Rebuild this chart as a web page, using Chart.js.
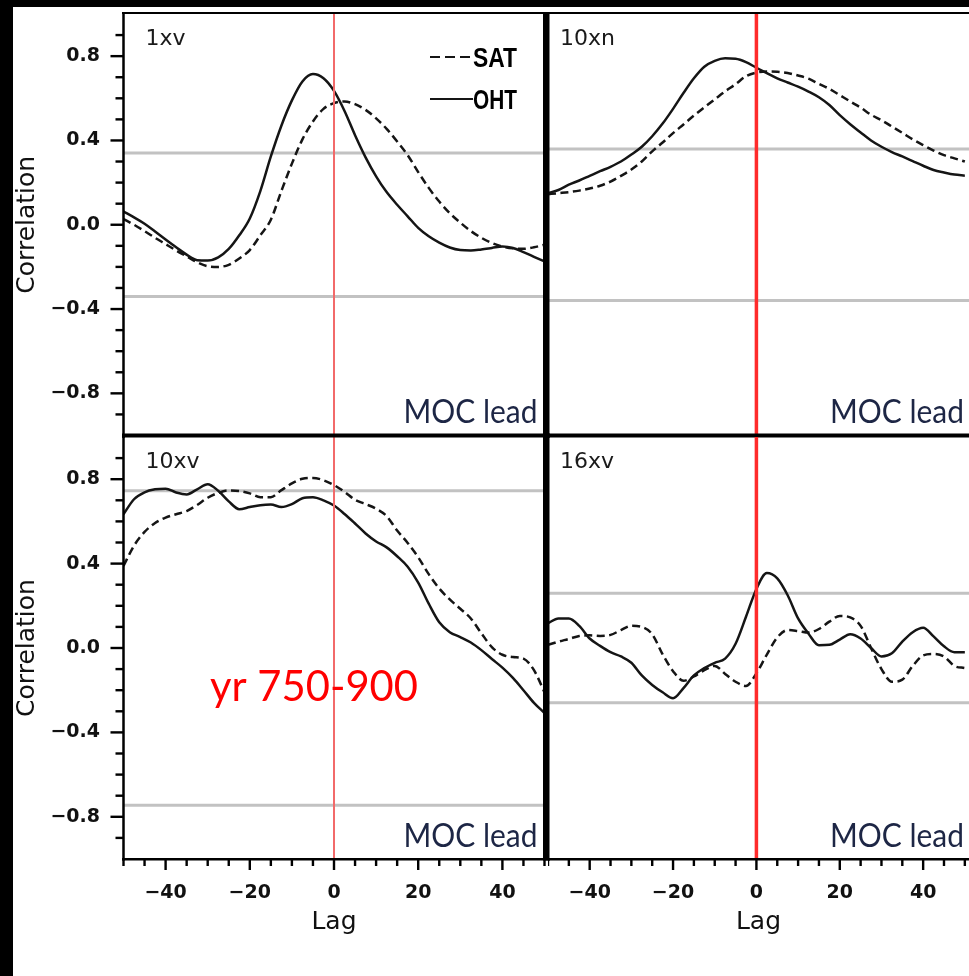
<!DOCTYPE html>
<html lang="en">
<head>
<meta charset="utf-8">
<title>MOC lag correlations</title>
<script src="https://cdn.jsdelivr.net/npm/chart.js@4.4.1/dist/chart.umd.min.js"></script>
<style>
  html, body { margin: 0; padding: 0; background: #fff; overflow: hidden; }
  #figure {
    position: relative;
    width: 956px;
    height: 969px;
    border-left: 13px solid #000;
    border-top: 7px solid #000;
    background: #fff;
  }
  #figure canvas { position: absolute; }
</style>
</head>
<body>
<div id="figure">
  <canvas id="panelB" width="421" height="431" style="left:535px;top:0"></canvas>
  <canvas id="panelD" width="421" height="539" style="left:535px;top:430px"></canvas>
  <canvas id="panelC" width="537" height="539" style="left:0;top:430px"></canvas>
  <canvas id="panelA" width="537" height="431" style="left:0;top:0"></canvas>
</div>
<script>
// lag in years (negative = MOC lags)
const lags = [-50, -47.5, -45, -42.5, -40, -37.5, -35, -32.5, -30, -27.5, -25, -22.5, -20, -17.5, -15, -12.5, -10, -7.5, -5, -2.5,
  0, 2.5, 5, 7.5, 10, 12.5, 15, 17.5, 20, 22.5, 25, 27.5, 30, 32.5, 35, 37.5, 40, 42.5, 45, 47.5, 50];

// correlation of ocean heat transport (OHT) and surface air temperature (SAT) with the MOC
const oht1xv = [0.063, 0.035, 0.005, -0.032, -0.07, -0.107, -0.142, -0.168, -0.17, -0.155, -0.115, -0.05, 0.03, 0.16, 0.324, 0.47, 0.59, 0.68, 0.715, 0.695,
  0.635, 0.54, 0.425, 0.32, 0.23, 0.155, 0.095, 0.04, -0.015, -0.055, -0.085, -0.108, -0.12, -0.122, -0.117, -0.11, -0.103, -0.11, -0.13, -0.152, -0.174];
const sat1xv = [0.027, 0.0, -0.03, -0.062, -0.092, -0.122, -0.15, -0.178, -0.197, -0.2, -0.19, -0.16, -0.12, -0.05, 0.024, 0.16, 0.29, 0.405, 0.49, 0.55,
  0.577, 0.585, 0.572, 0.545, 0.505, 0.455, 0.395, 0.33, 0.25, 0.175, 0.11, 0.055, 0.01, -0.03, -0.062, -0.087, -0.103, -0.112, -0.114, -0.107, -0.095];

const oht10xn = [0.15, 0.165, 0.19, 0.21, 0.232, 0.254, 0.275, 0.3, 0.333, 0.37, 0.42, 0.48, 0.55, 0.625, 0.695, 0.75, 0.778, 0.79, 0.788, 0.772,
  0.745, 0.72, 0.695, 0.675, 0.655, 0.632, 0.605, 0.568, 0.52, 0.477, 0.438, 0.4, 0.37, 0.345, 0.324, 0.302, 0.28, 0.26, 0.248, 0.238, 0.233];
const sat10xn = [0.145, 0.15, 0.155, 0.162, 0.172, 0.185, 0.205, 0.232, 0.262, 0.3, 0.348, 0.39, 0.435, 0.476, 0.518, 0.557, 0.595, 0.633, 0.667, 0.705,
  0.722, 0.727, 0.726, 0.72, 0.708, 0.693, 0.668, 0.645, 0.615, 0.585, 0.556, 0.522, 0.496, 0.466, 0.436, 0.405, 0.378, 0.352, 0.33, 0.315, 0.3];

const oht10xv = [0.634, 0.705, 0.738, 0.752, 0.755, 0.737, 0.728, 0.752, 0.776, 0.745, 0.695, 0.658, 0.668, 0.677, 0.68, 0.668, 0.682, 0.71, 0.715, 0.7,
  0.675, 0.635, 0.59, 0.543, 0.505, 0.477, 0.435, 0.385, 0.31, 0.21, 0.122, 0.075, 0.052, 0.026, -0.01, -0.052, -0.093, -0.142, -0.2, -0.26, -0.308];
const sat10xv = [0.389, 0.485, 0.55, 0.592, 0.618, 0.634, 0.649, 0.678, 0.712, 0.735, 0.747, 0.744, 0.733, 0.715, 0.715, 0.748, 0.78, 0.802, 0.806, 0.795,
  0.772, 0.74, 0.702, 0.682, 0.66, 0.625, 0.557, 0.498, 0.43, 0.35, 0.282, 0.23, 0.186, 0.14, 0.07, 0.004, -0.032, -0.043, -0.05, -0.105, -0.21];

const oht16xv = [0.118, 0.14, 0.14, 0.105, 0.045, 0.01, -0.02, -0.04, -0.07, -0.13, -0.175, -0.21, -0.238, -0.19, -0.13, -0.095, -0.07, -0.05, 0.02, 0.148,
  0.28, 0.355, 0.33, 0.25, 0.14, 0.068, 0.013, 0.015, 0.04, 0.065, 0.045, 0.0, -0.04, -0.025, 0.03, 0.075, 0.096, 0.055, 0.008, -0.02, -0.02];
const sat16xv = [0.015, 0.03, 0.043, 0.057, 0.06, 0.057, 0.062, 0.085, 0.105, 0.1, 0.065, -0.03, -0.11, -0.155, -0.135, -0.105, -0.085, -0.123, -0.16, -0.18,
  -0.12, -0.031, 0.05, 0.085, 0.08, 0.073, 0.09, 0.125, 0.152, 0.145, 0.105, 0.0, -0.1, -0.16, -0.15, -0.085, -0.035, -0.028, -0.04, -0.085, -0.095];

const panelNames = ['1xv', '10xn', '10xv', '16xv'];
const ohtSeries = [oht1xv, oht10xn, oht10xv, oht16xv];
const satSeries = [sat1xv, sat10xn, sat10xv, sat16xv];
// 95% significance level for each run
const sigLevels = [0.34, 0.36, 0.745, 0.26];

const yMajorTicks = [-0.8, -0.4, 0, 0.4, 0.8];
const yTickLabels = ['\u22120.8', '\u22120.4', '0.0', '0.4', '0.8'];
const xMajorTicks = [-40, -20, 0, 20, 40];
const xTickLabels = ['\u221240', '\u221220', '0', '20', '40'];

function labelFor(majors, labels) {
  return v => {
    const i = majors.findIndex(m => Math.abs(m - v) < 1e-6);
    return i < 0 ? null : labels[i];
  };
}

// fixed axis sizes; also drop the label overhang padding so the boxes line up
function fixAxis(size) {
  return s => {
    s.paddingLeft = s.paddingRight = s.paddingTop = s.paddingBottom = 0;
    if (!s.options.display) return;
    if (s.isHorizontal()) s.height = size;
    else s.width = size;
  };
}

// box edges, minor/major ticks and the panel annotations
const panelDecor = {
  id: 'panelDecor',
  afterDraw(chart, args, o) {
    const { ctx, chartArea: a, width, height } = chart;
    const xs = chart.scales.x;
    const ys = chart.scales.y;
    const f = o.frame;
    ctx.save();
    ctx.fillStyle = '#000';
    const x0 = f.left ? a.left - 1.5 : 0;
    const yTop = f.top ? a.top - 2 : 0;
    const yBot = f.bottom ? a.bottom + 1.5 : height;
    if (f.top) ctx.fillRect(x0, a.top - 2, width - x0, 2);
    if (f.split) ctx.fillRect(x0, a.bottom - 2, width - x0, 4);
    if (f.bottom) ctx.fillRect(x0, a.bottom - 1, width - x0, 2.5);
    if (f.left) ctx.fillRect(a.left - 1.25, yTop, 2.5, yBot - yTop);
    if (f.right) ctx.fillRect(a.right - 1.5, yTop, 6.5, yBot - yTop);

    if (f.left) {
      for (let k = -9; k <= 9; k++) {
        const py = ys.getPixelForValue(k / 10);
        const len = k % 4 === 0 ? 13 : 8;
        ctx.fillRect(a.left - len, py - 1.2, len, 2.4);
      }
    }
    if (f.bottom) {
      for (let lag = -50; lag <= 50; lag += 5) {
        const px = xs.getPixelForValue(lag);
        const len = lag % 20 === 0 ? 11 : 7;
        ctx.fillRect(px - 1.2, a.bottom, 2.4, len);
      }
    }

    ctx.textBaseline = 'alphabetic';
    ctx.textAlign = 'left';
    ctx.fillStyle = '#1a1a1a';
    ctx.font = '22px "DejaVu Sans"';
    ctx.fillText(o.name, a.left + o.nameDx, a.top + 31);

    ctx.textAlign = 'right';
    ctx.fillStyle = '#1d2645';
    ctx.font = '32px Lato';
    ctx.fillText('MOC lead', a.right - o.mocDx, a.bottom - 12.5, 134);

    if (o.legend) {
      const lx = a.right - 114.5;
      ctx.textAlign = 'left';
      ctx.font = 'bold 27px "Liberation Sans"';
      o.legend.forEach((name, i) => {
        const ds = chart.data.datasets.find(d => d.label === name);
        const ly = a.top + 43 + i * 42;
        ctx.strokeStyle = ds.borderColor;
        ctx.lineWidth = 2;
        ctx.setLineDash(ds.borderDash ? [10, 5] : []);
        ctx.beginPath();
        ctx.moveTo(lx, ly);
        ctx.lineTo(lx + 43, ly);
        ctx.stroke();
        ctx.fillStyle = '#000';
        ctx.fillText(name, lx + 43, ly + 10, 44);
      });
      ctx.setLineDash([]);
    }

    if (o.note) {
      ctx.textAlign = 'left';
      ctx.fillStyle = '#ff0000';
      ctx.font = '43px Lato';
      ctx.fillText(o.note, a.left + 86.5, a.top + 264, 208);
    }
    ctx.restore();
  }
};

const panels = [
  { id: 'panelA', row: 0, col: 0, padding: { left: 0, top: 7, right: 5.5, bottom: 2.5 },
    frame: { top: true, left: true, right: true, split: true }, nameDx: 22, mocDx: 7, legend: ['SAT', 'OHT'] },
  { id: 'panelB', row: 0, col: 1, padding: { left: 0, top: 7, right: 0, bottom: 2.5 },
    frame: { top: true, split: true }, nameDx: 12, mocDx: 5 },
  { id: 'panelC', row: 1, col: 0, padding: { left: 0, top: 0, right: 5.5, bottom: 0 },
    frame: { left: true, right: true, bottom: true }, nameDx: 22, mocDx: 7, note: 'yr 750-900' },
  { id: 'panelD', row: 1, col: 1, padding: 0,
    frame: { bottom: true }, nameDx: 12, mocDx: 5 }
];

const tickFont = { family: 'DejaVu Sans', size: 19, weight: 'bold' };

function buildPanel(p, i) {
  const xMax = p.col === 1 ? 51 : 50;
  const sig = sigLevels[i];
  const red = p.col === 0 ? { color: '#f26a6a', width: 2 } : { color: '#ff2b2b', width: 3.5 };
  const curve = (ys) => lags.map((x, k) => ({ x, y: ys[k] }));

  new Chart(document.getElementById(p.id), {
    type: 'line',
    data: {
      datasets: [
        { label: 'lag 0', data: [{ x: 0, y: -1 }, { x: 0, y: 1 }], borderColor: red.color, borderWidth: red.width },
        { label: 'OHT', data: curve(ohtSeries[i]), borderColor: '#151515', borderWidth: 2.5, cubicInterpolationMode: 'monotone' },
        { label: 'SAT', data: curve(satSeries[i]), borderColor: '#151515', borderWidth: 2.5, borderDash: [8, 4.5], cubicInterpolationMode: 'monotone' },
        { label: 'sig+', data: [{ x: -50, y: sig }, { x: xMax, y: sig }], borderColor: '#c2c2c2', borderWidth: 3 },
        { label: 'sig-', data: [{ x: -50, y: -sig }, { x: xMax, y: -sig }], borderColor: '#c2c2c2', borderWidth: 3 }
      ]
    },
    options: {
      responsive: false,
      animation: false,
      events: [],
      layout: { padding: p.padding },
      elements: { point: { radius: 0 } },
      plugins: {
        legend: { display: false },
        tooltip: { enabled: false },
        panelDecor: { name: panelNames[i], frame: p.frame, nameDx: p.nameDx, mocDx: p.mocDx, legend: p.legend, note: p.note }
      },
      scales: {
        x: {
          type: 'linear', min: -50, max: xMax,
          display: p.row === 1,
          grid: { display: false, drawTicks: false },
          border: { display: false },
          ticks: { stepSize: 5, autoSkip: false, maxRotation: 0, padding: 22.5, font: tickFont, color: '#111',
            callback: labelFor(xMajorTicks, xTickLabels) },
          title: { display: true, text: 'Lag', color: '#111',
            font: { family: 'DejaVu Sans', size: 25, lineHeight: 1.2 }, padding: { top: 0, bottom: 38.5 } },
          afterFit: fixAxis(117)
        },
        y: {
          type: 'linear', min: -1, max: 1,
          display: p.col === 0,
          grid: { display: false, drawTicks: false },
          border: { display: false },
          ticks: { stepSize: 0.1, autoSkip: false, padding: 23.5, font: tickFont, color: '#111',
            callback: labelFor(yMajorTicks, yTickLabels) },
          title: { display: true, text: 'Correlation', color: '#111',
            font: { family: 'DejaVu Sans', size: 25, lineHeight: 1 }, padding: { top: 1.5, bottom: 0 } },
          afterFit: fixAxis(110.5)
        }
      }
    },
    plugins: [panelDecor]
  });
}

Promise.all([
  document.fonts.load('32px Lato'),
  document.fonts.load('20px "DejaVu Sans"'),
  document.fonts.load('bold 19px "DejaVu Sans"'),
  document.fonts.load('bold 27px "Liberation Sans"')
]).catch(() => {}).then(() => panels.forEach(buildPanel));
</script>
</body>
</html>
